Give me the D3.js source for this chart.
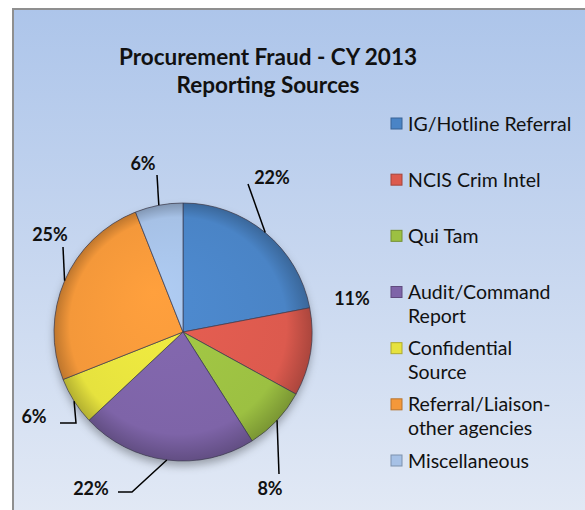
<!DOCTYPE html>
<html>
<head>
<meta charset="utf-8">
<script src="https://cdn.jsdelivr.net/npm/d3@7"></script>
<style>
  body { margin: 0; background: #fff; }
  text { font-family: Lato, "Open Sans", sans-serif; }
</style>
</head>
<body>
<div class="graph"></div>
<script>
// chart data
const categories = ['IG/Hotline Referral', 'NCIS Crim Intel', 'Qui Tam', 'Audit/Command Report',
    'Confidential Source', 'Referral/Liaison-other agencies', 'Miscellaneous'];
const legendLines = [['IG/Hotline Referral'], ['NCIS Crim Intel'], ['Qui Tam'], ['Audit/Command', 'Report'],
    ['Confidential', 'Source'], ['Referral/Liaison-', 'other agencies'], ['Miscellaneous']];
const values = [22, 11, 8, 22, 6, 25, 6];
const colors = ['#4a84c6', '#dc5a4e', '#9cc042', '#7e64a8', '#e6e23e', '#f4983a', '#a6c1e6'];
const titleLines = ['Procurement Fraud - CY 2013', 'Reporting Sources'];

const svgDim = { w: 585, h: 510 };
const pieDim = { cx: 183, cy: 332, r: 129 };

// label placement (text anchor) and leader line bends, per slice
const labelPos = [[272, 184], [352, 305], [270, 495], [91, 495], [34, 423], [50, 241], [143, 170]];
const leaderPts = [[[248, 184]], null, [[279, 474]], [[132, 492], [118, 492]], [[76, 423], [60, 423]], [[63, 247]], [[157, 175]]];

const svg = d3.select('.graph').append('svg').attr('width', svgDim.w).attr('height', svgDim.h);
const defs = svg.append('defs');

const bg = defs.append('linearGradient').attr('id', 'bg').attr('x1', 0).attr('y1', 0).attr('x2', 0).attr('y2', 1);
bg.append('stop').attr('offset', '0%').attr('stop-color', '#adc5ea');
bg.append('stop').attr('offset', '100%').attr('stop-color', '#e2e9f5');

svg.append('rect').attr('x', 13).attr('y', 9).attr('width', svgDim.w).attr('height', svgDim.h).attr('fill', 'url(#bg)');
svg.append('path').attr('d', `M13,${svgDim.h}V9H${svgDim.w}`).attr('fill', 'none').attr('stroke', '#8f8f8f').attr('stroke-width', 2);

// title
svg.append('text').attr('x', 268).attr('y', 65).attr('text-anchor', 'middle')
    .attr('font-size', 22.5).attr('font-weight', 'bold').attr('fill', '#111')
    .selectAll('tspan').data(titleLines).join('tspan')
    .attr('x', 268).attr('dy', (d, i) => i ? 28 : 0).text(d => d);

// shading gradients (centred on the pie, slices are drawn in translated coords)
colors.forEach((c, i) => {
    const g = defs.append('radialGradient').attr('id', 'sl' + i).attr('gradientUnits', 'userSpaceOnUse')
        .attr('cx', 0).attr('cy', 0).attr('r', pieDim.r)
        .attr('fx', -30).attr('fy', -40);
    g.append('stop').attr('offset', '0%').attr('stop-color', d3.color(c).brighter(0.15));
    g.append('stop').attr('offset', '84%').attr('stop-color', c);
    g.append('stop').attr('offset', '100%').attr('stop-color', d3.color(c).darker(0.7));
});
const sh = defs.append('filter').attr('id', 'shadow').attr('x', '-20%').attr('y', '-20%').attr('width', '140%').attr('height', '150%');
sh.append('feDropShadow').attr('dx', 0).attr('dy', 5).attr('stdDeviation', 4).attr('flood-color', '#000').attr('flood-opacity', 0.3);

const pie = d3.pie().sort(null).value(d => d);
const arcs = pie(values);
const arc = d3.arc().innerRadius(0).outerRadius(pieDim.r);
const edge = d3.arc().innerRadius(pieDim.r).outerRadius(pieDim.r);

const g = svg.append('g').attr('transform', `translate(${pieDim.cx},${pieDim.cy})`);
g.append('circle').attr('r', pieDim.r).attr('fill', '#888').attr('filter', 'url(#shadow)');
g.selectAll('path').data(arcs).join('path')
    .attr('d', arc)
    .attr('fill', (d, i) => `url(#sl${i})`)
    .attr('stroke', '#3c3c50').attr('stroke-opacity', 0.7).attr('stroke-width', 1);

// leader lines
const line = d3.line();
arcs.forEach((d, i) => {
    if (!leaderPts[i]) return;
    const p = edge.centroid(d);
    const start = [p[0] + pieDim.cx, p[1] + pieDim.cy];
    svg.append('path').attr('d', line([start, ...leaderPts[i]]))
        .attr('fill', 'none').attr('stroke', '#000').attr('stroke-width', 1.5);
});

// data labels
svg.append('g').selectAll('text').data(arcs).join('text')
    .attr('x', (d, i) => labelPos[i][0]).attr('y', (d, i) => labelPos[i][1])
    .attr('text-anchor', 'middle').attr('font-size', 18).attr('font-weight', 'bold').attr('fill', '#111')
    .text(d => d.data + '%');

// legend
const ly = d3.scaleLinear().domain([0, categories.length - 1]).range([124, 461]);
const leg = svg.append('g').selectAll('g').data(categories).join('g')
    .attr('transform', (d, i) => `translate(391,${ly(i)})`);
leg.append('rect').attr('x', 0).attr('y', -6).attr('width', 11).attr('height', 11)
    .attr('fill', (d, i) => colors[i]).attr('stroke', (d, i) => d3.color(colors[i]).darker(0.8)).attr('stroke-width', 1);
leg.append('text').attr('x', 17).attr('y', 6.5).attr('font-size', 19.5).attr('fill', '#111')
    .selectAll('tspan').data((d, i) => legendLines[i]).join('tspan')
    .attr('x', 17).attr('dy', (d, i) => i ? 23.5 : 0).text(d => d);
</script>
</body>
</html>
